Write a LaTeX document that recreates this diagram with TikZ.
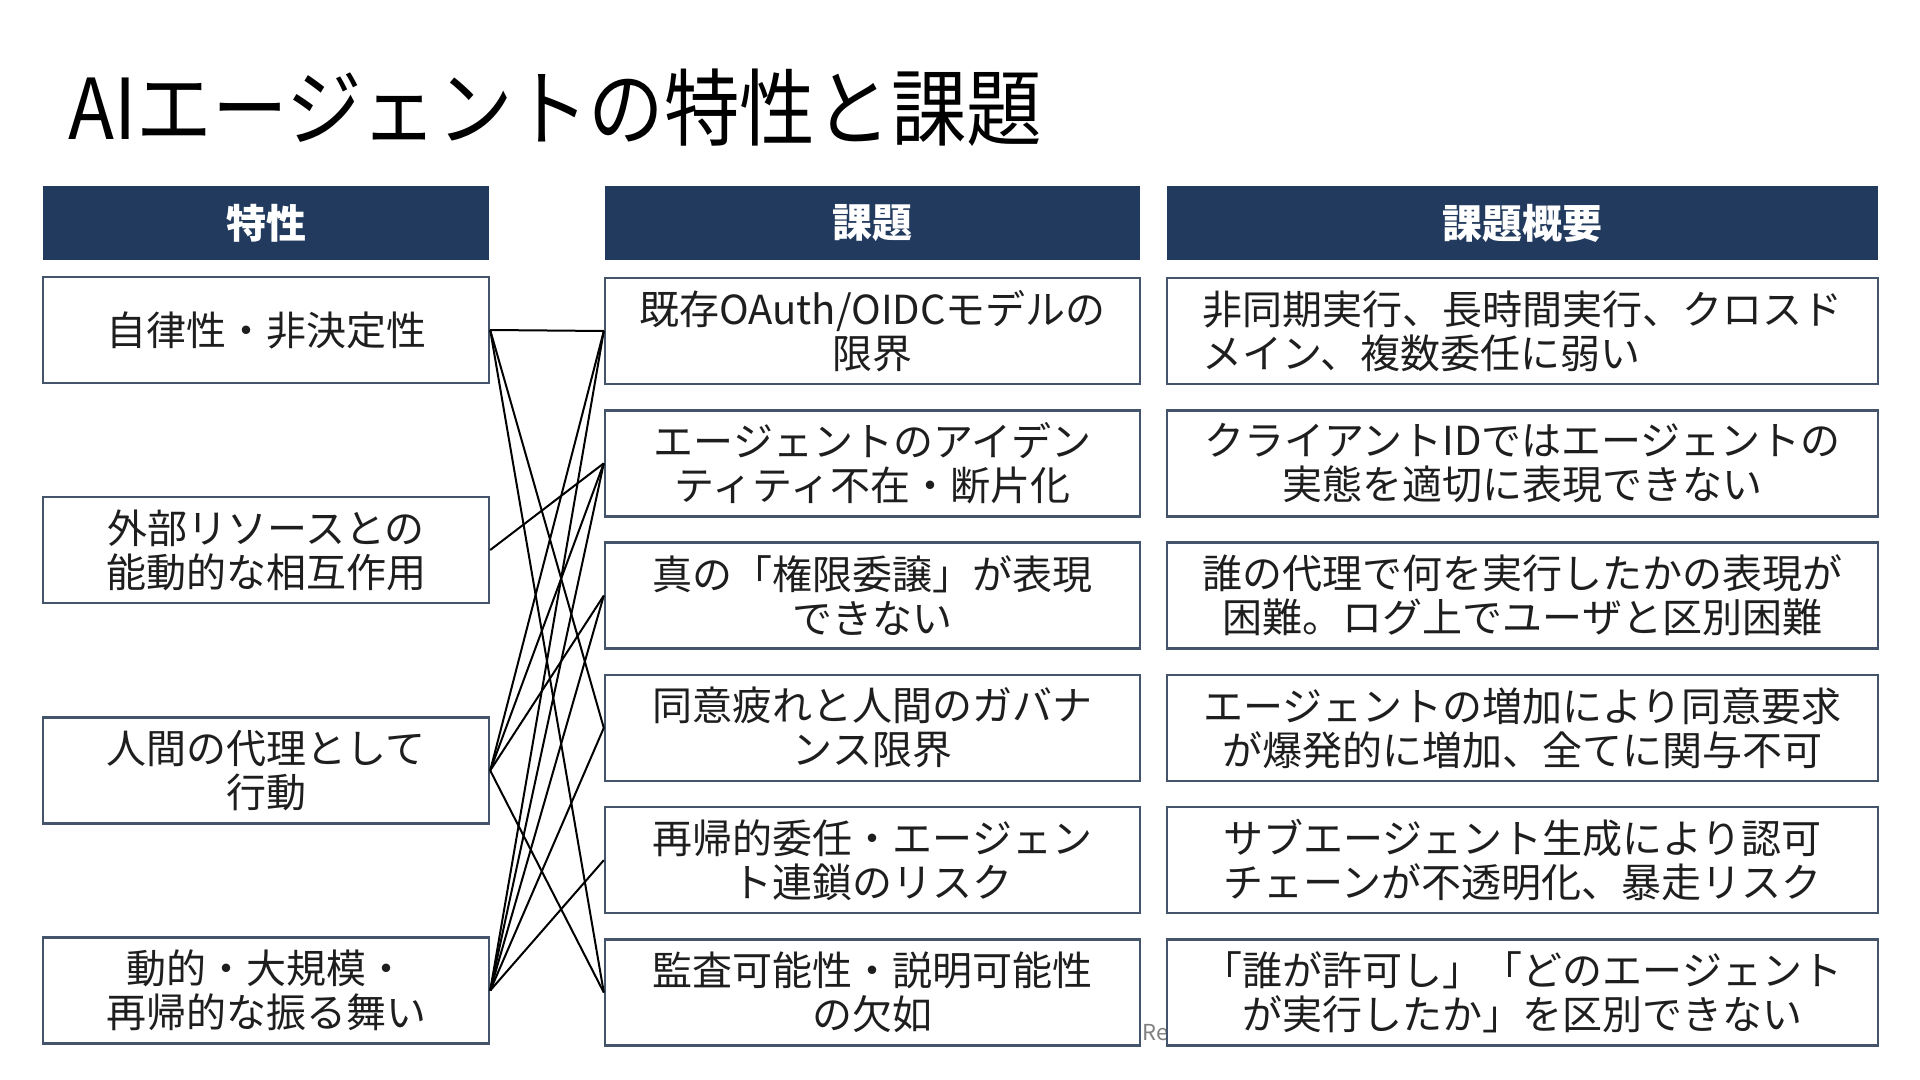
\documentclass[tikz,border=0pt]{standalone}
\usepackage{fontspec}
\setmainfont{Noto Sans CJK JP}
\definecolor{navy}{RGB}{33,58,94}
\definecolor{boxedge}{RGB}{68,84,106}
\definecolor{ink}{RGB}{30,30,30}
\definecolor{faint}{RGB}{128,128,128}
\begin{document}
\begin{tikzpicture}[x=0.5pt,y=-0.5pt,
  hdr/.style={fill=navy, draw=none, text=white, font=\fontsize{20pt}{24pt}\selectfont\bfseries, minimum height=37pt, inner sep=0pt},
  box/.style={draw=boxedge, line width=1.2pt, fill=white, text=ink, font=\fontsize{20pt}{22pt}\selectfont, align=center, minimum height=53pt, inner sep=0pt},
  lbox/.style={box, minimum width=223pt},
  mbox/.style={box, minimum width=267.5pt},
  rbox/.style={box, minimum width=355.5pt},
  link/.style={draw=black, line width=1pt}]
\useasboundingbox[fill=white] (0,0) rectangle (1920,1080);

% title
\node[anchor=base west, inner sep=0pt, text=black, font=\fontsize{42pt}{48pt}\selectfont] (title) at (68,140) {\scalebox{0.9}[1]{AIエージェントの特性と課題}};

% faint footer text partly hidden
\node[anchor=base west, inner sep=0pt, text=faint, font=\fontsize{11pt}{13pt}\selectfont] (foot) at (1142,1040) {Re};

% headers
\node[hdr, minimum width=223pt] (H1) at (266,223) {特性};
\node[hdr, minimum width=267.5pt] (H2) at (872.5,223) {課題};
\node[hdr, minimum width=355.5pt] (H3) at (1522.5,223) {課題概要};

% left column
\node[lbox] (L1) at (266,330) {自律性・非決定性};
\node[lbox] (L2) at (266,550) {外部リソースとの\\能動的な相互作用};
\node[lbox] (L3) at (266,770.5) {人間の代理として\\行動};
\node[lbox] (L4) at (266,990.5) {動的・大規模・\\再帰的な振る舞い};

% middle column
\node[mbox] (M1) at (872.5,331) {既存OAuth/OIDCモデルの\\限界};
\node[mbox] (M2) at (872.5,463.3) {エージェントのアイデン\\ティティ不在・断片化};
\node[mbox] (M3) at (872.5,595.6) {真の「権限委譲」が表現\\できない};
\node[mbox] (M4) at (872.5,727.9) {同意疲れと人間のガバナ\\ンス限界};
\node[mbox] (M5) at (872.5,860.2) {再帰的委任・エージェン\\ト連鎖のリスク};
\node[mbox] (M6) at (872.5,992.5) {監査可能性・説明可能性\\の欠如};

% right column
\node[rbox, align=left] (R1) at (1522.5,331) {非同期実行、長時間実行、クロスド\\メイン、複数委任に弱い};
\node[rbox] (R2) at (1522.5,463.3) {クライアントIDではエージェントの\\実態を適切に表現できない};
\node[rbox] (R3) at (1522.5,595.6) {誰の代理で何を実行したかの表現が\\困難。ログ上でユーザと区別困難};
\node[rbox] (R4) at (1522.5,727.9) {エージェントの増加により同意要求\\が爆発的に増加、全てに関与不可};
\node[rbox] (R5) at (1522.5,860.2) {サブエージェント生成により認可\\チェーンが不透明化、暴走リスク};
\node[rbox] (R6) at (1522.5,992.5) {「誰が許可し」「どのエージェント\\が実行したか」を区別できない};

% connectors
\draw[link] (L1.east) -- (M1.west);
\draw[link] (L1.east) -- (M4.west);
\draw[link] (L1.east) -- (M6.west);
\draw[link] (L2.east) -- (M2.west);
\draw[link] (L3.east) -- (M1.west);
\draw[link] (L3.east) -- (M2.west);
\draw[link] (L3.east) -- (M3.west);
\draw[link] (L3.east) -- (M6.west);
\draw[link] (L4.east) -- (M1.west);
\draw[link] (L4.east) -- (M2.west);
\draw[link] (L4.east) -- (M3.west);
\draw[link] (L4.east) -- (M4.west);
\draw[link] (L4.east) -- (M5.west);
\end{tikzpicture}
\end{document}
